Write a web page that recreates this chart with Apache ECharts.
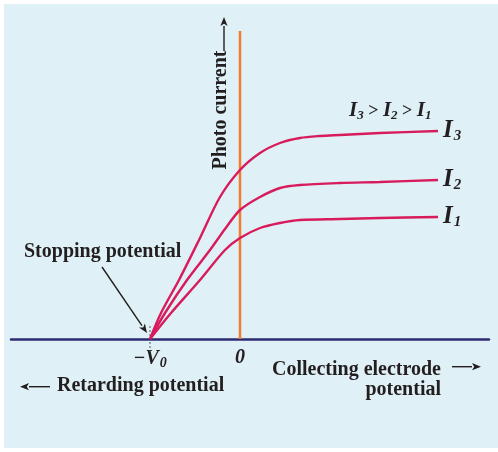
<!DOCTYPE html>
<html>
<head>
<meta charset="utf-8">
<script src="https://cdn.jsdelivr.net/npm/echarts@6/dist/echarts.min.js"></script>
<style>
html,body{margin:0;padding:0;background:#fff}
#main{width:498px;height:452px}
</style>
</head>
<body>
<div id="main"></div>
<script>
// potential (x) and photo current (y), arbitrary units
var stopV = -90;
var i1X = [-90, -69, -40, -15, 0, 20, 40, 60, 100, 140, 198];
var i1Y = [0, 26, 59, 89, 101, 111, 116, 119, 120, 121, 122];
var i2X = [-90, -75, -53, -30, -15, 0, 20, 40, 60, 100, 140, 198];
var i2Y = [0, 26, 59, 89, 110, 129, 142, 151, 154, 156, 157, 159];
var i3X = [-90, -79, -61, -40, -20, 0, 20, 40, 60, 80, 100, 140, 198];
var i3Y = [0, 26, 59, 101, 142, 169, 186, 196, 201, 203, 204, 206, 208];
var seriesNames = ['3', '2', '1'];
var tickValues = [stopV, 0];

var serif = '"Liberation Serif", "DejaVu Serif", serif';
var ink = '#231f20';
var curveColor = '#d81b5c';

function pairs(xs, ys) {
  var out = [];
  for (var i = 0; i < xs.length; i++) out.push([xs[i], ys[i]]);
  return out;
}

// a simple arrow for the annotations
function arrow(x1, y1, x2, y2) {
  var a = Math.atan2(y2 - y1, x2 - x1);
  var L = 9, W = 3.6;
  var bx = x2 - L * Math.cos(a), by = y2 - L * Math.sin(a);
  var px = -Math.sin(a) * W, py = Math.cos(a) * W;
  return {
    type: 'group',
    silent: true,
    children: [
      { type: 'line', shape: { x1: x1, y1: y1, x2: bx, y2: by }, style: { stroke: ink, lineWidth: 1.4 } },
      { type: 'polygon', shape: { points: [[x2, y2], [bx + px, by + py], [bx + 2.2 * Math.cos(a), by + 2.2 * Math.sin(a)], [bx - px, by - py]] }, style: { fill: ink } }
    ]
  };
}

function label(text, x, y, align, extra) {
  var el = {
    type: 'text', silent: true, x: x, y: y,
    style: { text: text, font: 'bold 20px ' + serif, fill: ink, align: align || 'left', verticalAlign: 'middle' }
  };
  if (extra) for (var k in extra) el[k] = extra[k];
  return el;
}

function richFont(size, pad) {
  return {
    fontFamily: serif, fontStyle: 'italic', fontWeight: 'bold', fontSize: size,
    color: ink, padding: pad || 0
  };
}

function curve(name, xs, ys) {
  return {
    type: 'line', name: name, data: pairs(xs, ys),
    smooth: 0.3, showSymbol: false, symbol: 'none',
    lineStyle: { color: curveColor, width: 2.4 }, z: 5,
    endLabel: {
      show: true, distance: 5, formatter: '{a|I}{b|' + name + '}',
      rich: { a: richFont(25), b: richFont(15, [10, 0, 0, 1]) }
    }
  };
}

var chart = echarts.init(document.getElementById('main'));
var option = {
  backgroundColor: '#fff',
  animation: false,
  grid: { left: 11, right: 9, top: 31, bottom: 113, outerBoundsMode: 'none' },
  xAxis: {
    type: 'value', min: -229, max: 249,
    splitLine: { show: false },
    axisTick: { show: false },
    axisLine: { show: true, lineStyle: { color: '#2e2b72', width: 2.5 } },
    axisLabel: {
      customValues: tickValues, margin: 9, color: ink,
      formatter: function (v) { return v === 0 ? '{a|0}' : '{a|−V}{b|0}'; },
      rich: { a: richFont(20), b: richFont(14, [8, 0, 0, 1]) }
    }
  },
  yAxis: { type: 'value', min: 0, max: 308, show: false },
  series: [
    {
      type: 'line', data: [[0, 0], [0, 308]], showSymbol: false, symbol: 'none',
      lineStyle: { color: '#f47b2e', width: 2.5 }, z: 3
    },
    {
      type: 'line', data: [[stopV, -13], [stopV, 14]], showSymbol: false, symbol: 'none', clip: false,
      lineStyle: { color: '#555', width: 1, type: [2, 2] }, z: 3
    },
    curve(seriesNames[0], i3X, i3Y),
    curve(seriesNames[1], i2X, i2Y),
    curve(seriesNames[2], i1X, i1Y)
  ],
  graphic: [
    { type: 'rect', silent: true, z: -100, shape: { x: 4, y: 4, width: 494, height: 444 }, style: { fill: '#dff1f6' } },
    label('Photo current', 221, 110, 'center', { rotation: Math.PI / 2 }),
    arrow(224, 51, 224, 17),
    label('Stopping potential', 24, 251.5),
    arrow(102, 267, 147, 333),
    label('Collecting electrode', 441, 369.7, 'right'),
    arrow(452, 366.7, 481, 366.7),
    label('potential', 441, 390, 'right'),
    label('Retarding potential', 57, 385.7),
    arrow(50, 386.7, 20, 386.7),
    {
      type: 'text', silent: true, x: 349, y: 111,
      style: {
        text: '{a|I}{b|3}{c| > }{a|I}{b|2}{c| > }{a|I}{b|1}',
        verticalAlign: 'middle', align: 'left',
        rich: {
          a: { font: 'italic bold 21px ' + serif, fill: ink },
          b: { font: 'italic bold 13px ' + serif, fill: ink, padding: [9, 0, 0, 0] },
          c: { font: 'bold 18px ' + serif, fill: ink }
        }
      }
    }
  ]
};
chart.setOption(option);
</script>
</body>
</html>
